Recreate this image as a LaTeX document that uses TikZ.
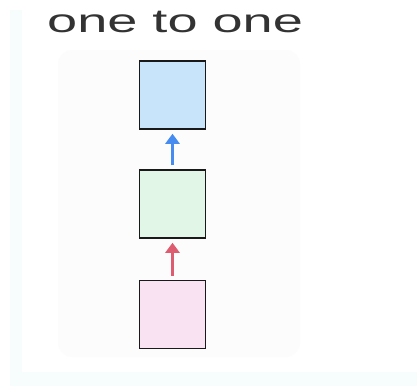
\documentclass[tikz,border=0pt]{standalone}
\usepackage{fontspec}
\setmainfont{Liberation Sans}
\usetikzlibrary{arrows.meta}
\definecolor{bluefill}{RGB}{200,228,250}
\definecolor{greenfill}{RGB}{226,246,232}
\definecolor{pinkfill}{RGB}{249,226,242}
\definecolor{arrblue}{RGB}{70,140,240}
\definecolor{arrred}{RGB}{222,92,112}
\definecolor{panelgrey}{RGB}{252,252,252}
\definecolor{frameblue}{RGB}{247,252,253}
\tikzset{
  cell/.style={draw=black!90, line width=1.5pt, minimum width=66pt, minimum height=68pt, inner sep=0pt},
  link/.style={line width=2.6pt, -{Triangle[length=10pt,width=14pt]}, shorten >=4pt, shorten <=4pt}
}
\begin{document}
\begin{tikzpicture}[x=1pt,y=-1pt]
\useasboundingbox (0,0) rectangle (417,386);
\fill[white] (0,0) rectangle (417,386);
\fill[frameblue] (10,10) rectangle (22,386);
\fill[frameblue] (10,372) rectangle (417,386);
\fill[panelgrey, rounded corners=14pt] (58,50) rectangle (300,357);
\node[anchor=base west, inner sep=0pt, text=black!80] (title) at (47,32.5)
  {\scalebox{1.64}[1]{\fontsize{33}{33}\selectfont one to one}};
\node[cell, fill=bluefill] (top) at (172.5,95) {};
\node[cell, fill=greenfill] (mid) at (172.5,204) {};
\node[cell, fill=pinkfill] (bot) at (172.5,314.5) {};
\draw[link, arrblue] (mid) -- (top);
\draw[link, arrred] (bot) -- (mid);
\end{tikzpicture}
\end{document}
